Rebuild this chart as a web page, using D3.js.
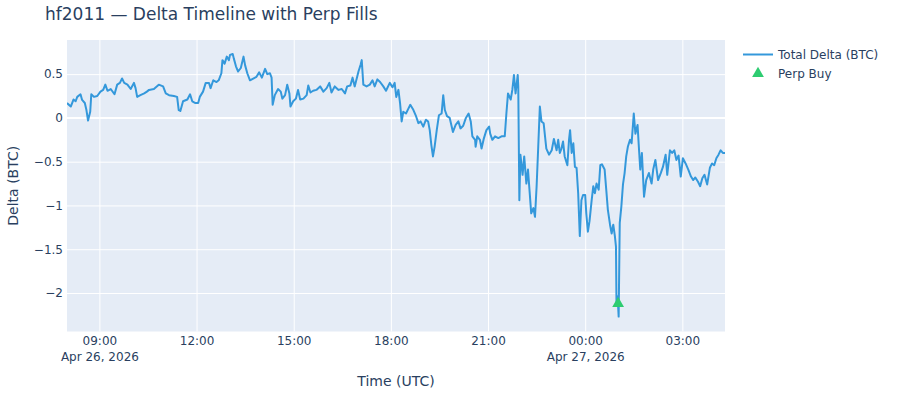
<!DOCTYPE html>
<html lang="en">
<head>
    <meta charset="UTF-8">
    <title>hf2011 Delta Timeline</title>
    <script src="https://d3js.org/d3.v7.min.js"></script>
    <style>
        body {
            margin: 0;
            background-color: #fff;
            font-family: "DejaVu Sans", Verdana, sans-serif;
        }

        .grid line {
            stroke: #fff;
            stroke-width: 1;
        }

        .tick text {
            fill: #2a3f5f;
            font-size: 12px;
            font-family: "DejaVu Sans", Verdana, sans-serif;
        }
    </style>
</head>
<body>
    <div id="chart"></div>

    <script>
        // Series start time, samples are minutes after this moment
        const startTime = "2026-04-26T08:00:00Z";
        const endMinute = 1219;

        const deltaMinutes = [
            0, 7, 12, 16, 19, 25, 28, 33, 36, 39, 43, 45, 50, 56, 62, 67, 71, 75, 81, 88,
            93, 98, 102, 106, 112, 118, 124, 127, 130, 136, 143, 148, 152, 161, 170, 178, 183, 189, 198, 204,
            207, 210, 215, 223, 228, 232, 238, 243, 246, 252, 257, 263, 266, 271, 277, 281, 286, 288, 292, 296,
            300, 302, 307, 309, 313, 317, 322, 327, 330, 334, 339, 345, 351, 356, 361, 367, 371, 376, 379, 381,
            385, 391, 396, 399, 404, 408, 412, 414, 419, 424, 428, 432, 438, 444, 447, 451, 456, 462, 469, 475,
            481, 486, 490, 496, 503, 509, 515, 519, 525, 529, 533, 540, 544, 546, 549, 555, 561, 566, 570, 575,
            580, 586, 591, 598, 603, 607, 610, 614, 617, 620, 623, 628, 632, 636, 641, 646, 651, 655, 660, 665,
            669, 672, 675, 678, 681, 685, 689, 694, 697, 700, 704, 709, 715, 720, 725, 729, 734, 739, 744, 748,
            751, 756, 757, 760, 765, 768, 772, 777, 782, 784, 788, 793, 799, 805, 811, 814, 817, 822, 825, 828,
            831, 835, 836, 838, 840, 844, 847, 851, 854, 857, 860, 864, 867, 870, 873, 876, 879, 883, 888, 893,
            898, 902, 907, 910, 913, 916, 919, 922, 927, 930, 932, 935, 938, 941, 944, 947, 950, 953, 956, 960,
            962, 965, 968, 972, 975, 978, 981, 985, 988, 991, 996, 999, 1002, 1006, 1009, 1012, 1015, 1017, 1018, 1020,
            1022, 1024, 1027, 1030, 1033, 1036, 1039, 1043, 1046, 1050, 1053, 1057, 1059, 1062, 1065, 1069, 1073, 1078, 1083, 1086,
            1090, 1095, 1100, 1104, 1109, 1112, 1117, 1121, 1125, 1129, 1133, 1137, 1141, 1146, 1151, 1156, 1160, 1164, 1169, 1173,
            1177, 1181, 1186, 1191, 1195, 1199, 1203, 1207, 1211, 1215, 1219
        ];

        const deltaValues = [
            0.17, 0.13, 0.21, 0.19, 0.24, 0.27, 0.205, 0.17, 0.09, -0.03, 0.07, 0.27, 0.24, 0.25, 0.30, 0.32, 0.38, 0.31, 0.33, 0.27,
            0.38, 0.40, 0.45, 0.40, 0.38, 0.33, 0.40, 0.34, 0.24, 0.26, 0.28, 0.30, 0.32, 0.33, 0.38, 0.36, 0.28, 0.26, 0.25, 0.24,
            0.09, 0.08, 0.19, 0.21, 0.27, 0.19, 0.17, 0.17, 0.24, 0.30, 0.40, 0.40, 0.34, 0.43, 0.41, 0.43, 0.51, 0.66, 0.62, 0.70,
            0.66, 0.72, 0.73, 0.68, 0.59, 0.53, 0.57, 0.70, 0.60, 0.51, 0.43, 0.45, 0.47, 0.52, 0.46, 0.56, 0.50, 0.51, 0.46, 0.15,
            0.26, 0.33, 0.30, 0.22, 0.26, 0.38, 0.28, 0.13, 0.19, 0.22, 0.32, 0.21, 0.22, 0.26, 0.37, 0.29, 0.31, 0.32, 0.36, 0.30,
            0.34, 0.40, 0.29, 0.36, 0.32, 0.33, 0.28, 0.36, 0.37, 0.46, 0.36, 0.53, 0.61, 0.66, 0.38, 0.36, 0.38, 0.43, 0.36, 0.44,
            0.41, 0.36, 0.31, 0.40, 0.35, 0.40, 0.24, 0.32, 0.17, -0.04, 0.07, 0.05, 0.10, 0.15, 0.10, 0.03, -0.06, -0.04, -0.10, -0.02,
            -0.04, -0.14, -0.31, -0.44, -0.33, -0.14, 0.03, 0.05, 0.26, 0.09, 0.02, 0.00, -0.16, -0.08, -0.04, -0.12, -0.09, 0.00, 0.05, -0.04,
            -0.21, -0.25, -0.33, -0.21, -0.25, -0.35, -0.24, -0.14, -0.10, -0.18, -0.25, -0.21, -0.23, -0.21, -0.21, 0.05, 0.28, 0.21, 0.32, 0.49,
            0.28, 0.49, 0.36, -0.94, -0.42, -0.65, -0.44, -0.75, -0.59, -0.84, -1.09, -1.03, -1.13, -0.78, -0.33, 0.13, -0.04, -0.06, -0.35, -0.42,
            -0.37, -0.24, -0.37, -0.25, -0.40, -0.35, -0.27, -0.44, -0.54, -0.25, -0.14, -0.40, -0.29, -0.56, -0.57, -0.86, -1.35, -0.94, -0.88, -0.88,
            -1.09, -1.30, -1.18, -0.94, -0.78, -0.86, -0.75, -0.82, -0.54, -0.53, -0.59, -0.82, -1.05, -1.22, -1.32, -1.22, -1.35, -1.47, -2.15, -2.04,
            -2.27, -1.20, -1.01, -0.76, -0.63, -0.44, -0.33, -0.25, -0.29, 0.05, -0.18, -0.08, -0.29, -0.59, -0.40, -0.90, -0.71, -0.63, -0.75, -0.59,
            -0.48, -0.71, -0.63, -0.56, -0.42, -0.65, -0.37, -0.40, -0.37, -0.48, -0.43, -0.67, -0.46, -0.52, -0.59, -0.67, -0.71, -0.68, -0.73, -0.78,
            -0.69, -0.65, -0.76, -0.57, -0.52, -0.54, -0.46, -0.42, -0.37, -0.40, -0.40
        ];

        // Perp fills
        const buyMinutes = [1021];
        const buyValues = [-2.12];

        const yTicks = [0.5, 0, -0.5, -1, -1.5, -2];
        const yTickLabels = ["0.5", "0", "\u22120.5", "\u22121", "\u22121.5", "\u22122"];
        const yDomain = [-2.44, 0.89];

        const width = 900;
        const height = 400;
        const margin = { top: 40, right: 175, bottom: 68.5, left: 67 };
        const chartWidth = width - margin.left - margin.right;
        const chartHeight = height - margin.top - margin.bottom;

        const t0 = new Date(startTime);
        const toTime = m => d3.utcMinute.offset(t0, m);

        const series = deltaMinutes.map((m, i) => ({ t: toTime(m), v: deltaValues[i] }));
        const buys = buyMinutes.map((m, i) => ({ t: toTime(m), v: buyValues[i] }));

        const svg = d3.select("#chart").append("svg")
            .attr("width", width)
            .attr("height", height);

        // Title
        svg.append("text")
            .attr("x", 45)
            .attr("y", 19.5)
            .style("font-size", "17px")
            .style("fill", "#2a3f5f")
            .text("hf2011 \u2014 Delta Timeline with Perp Fills");

        const g = svg.append("g")
            .attr("transform", `translate(${margin.left}, ${margin.top})`);

        g.append("rect")
            .attr("width", chartWidth)
            .attr("height", chartHeight)
            .attr("fill", "#e5ecf6");

        const x = d3.scaleUtc()
            .domain([t0, toTime(endMinute)])
            .range([0, chartWidth]);

        const y = d3.scaleLinear()
            .domain(yDomain)
            .range([chartHeight, 0]);

        const xTicks = x.ticks(d3.utcHour.every(3));
        const hourFmt = d3.utcFormat("%H:%M");
        const dateFmt = d3.utcFormat("%b %-d, %Y");

        // Vertical gridlines
        g.append("g")
            .attr("class", "grid")
            .attr("transform", `translate(0, ${chartHeight})`)
            .call(d3.axisBottom(x).tickValues(xTicks).tickSize(-chartHeight).tickFormat(""))
            .call(s => s.select(".domain").remove());

        // Horizontal gridlines
        g.append("g")
            .attr("class", "grid")
            .call(d3.axisLeft(y).tickValues(yTicks.filter(d => d !== 0)).tickSize(-chartWidth).tickFormat(""))
            .call(s => s.select(".domain").remove());

        // Zero line
        g.append("line")
            .attr("x1", 0)
            .attr("x2", chartWidth)
            .attr("y1", y(0))
            .attr("y2", y(0))
            .attr("stroke", "#fff")
            .attr("stroke-width", 2);

        // X axis labels, with the date under the first tick and at midnight
        const xAxis = g.append("g")
            .attr("transform", `translate(0, ${chartHeight})`)
            .call(d3.axisBottom(x).tickValues(xTicks).tickSize(0).tickPadding(5).tickFormat(""))
            .call(s => s.select(".domain").remove());

        xAxis.selectAll(".tick text").each(function(d, i) {
            const t = d3.select(this);
            t.append("tspan").attr("x", 0).text(hourFmt(d));
            if (i === 0 || d.getUTCHours() === 0) {
                t.append("tspan").attr("x", 0).attr("dy", "1.3em").text(dateFmt(d));
            }
        });

        // Y axis labels
        g.append("g")
            .call(d3.axisLeft(y).tickValues(yTicks).tickSize(0).tickPadding(4)
                .tickFormat((d, i) => yTickLabels[i]))
            .call(s => s.select(".domain").remove());

        // Clip the line to the plot area
        g.append("clipPath")
            .attr("id", "plot-clip")
            .append("rect")
            .attr("width", chartWidth)
            .attr("height", chartHeight);

        const line = d3.line()
            .x(d => x(d.t))
            .y(d => y(d.v));

        g.append("path")
            .datum(series)
            .attr("clip-path", "url(#plot-clip)")
            .attr("fill", "none")
            .attr("stroke", "#3498db")
            .attr("stroke-width", 2)
            .attr("stroke-linejoin", "round")
            .attr("d", line);

        const tri = d3.symbol().type(d3.symbolTriangle).size(60);

        g.selectAll(".buy")
            .data(buys)
            .enter().append("path")
            .attr("class", "buy")
            .attr("transform", d => `translate(${x(d.t)}, ${y(d.v)})`)
            .attr("fill", "#2ecc71")
            .attr("d", tri);

        // Axis titles
        svg.append("text")
            .attr("x", margin.left + chartWidth / 2)
            .attr("y", 386)
            .attr("text-anchor", "middle")
            .style("font-size", "14px")
            .style("fill", "#2a3f5f")
            .text("Time (UTC)");

        svg.append("text")
            .attr("transform", `translate(18, ${margin.top + chartHeight / 2}) rotate(-90)`)
            .attr("text-anchor", "middle")
            .style("font-size", "14px")
            .style("fill", "#2a3f5f")
            .text("Delta (BTC)");

        // Legend
        const legend = svg.append("g");

        legend.append("line")
            .attr("x1", 743)
            .attr("x2", 773)
            .attr("y1", 54.5)
            .attr("y2", 54.5)
            .attr("stroke", "#3498db")
            .attr("stroke-width", 2);

        legend.append("text")
            .attr("x", 778)
            .attr("y", 58.5)
            .style("font-size", "12px")
            .style("fill", "#2a3f5f")
            .text("Total Delta (BTC)");

        legend.append("path")
            .attr("transform", "translate(758, 73.5)")
            .attr("fill", "#2ecc71")
            .attr("d", tri);

        legend.append("text")
            .attr("x", 778)
            .attr("y", 77.5)
            .style("font-size", "12px")
            .style("fill", "#2a3f5f")
            .text("Perp Buy");
    </script>
</body>
</html>
